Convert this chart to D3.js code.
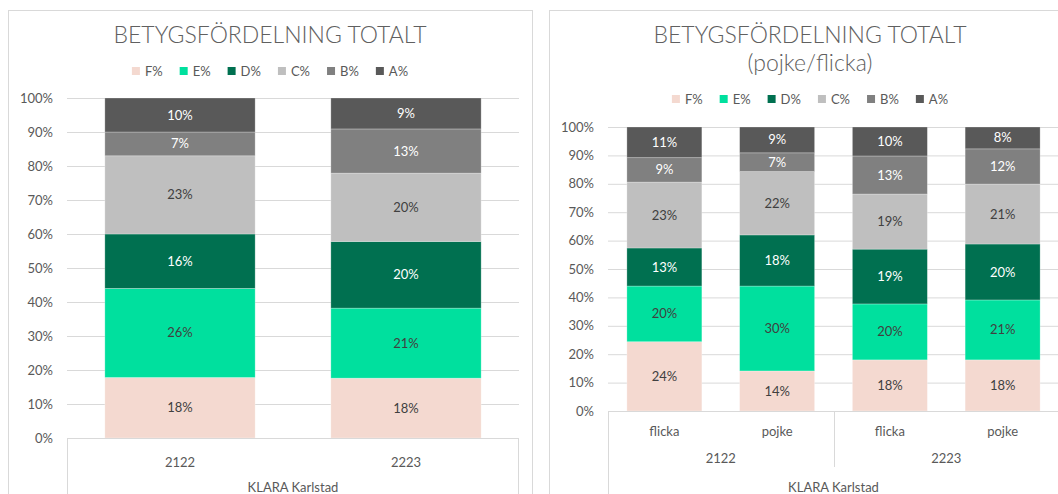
<!DOCTYPE html>
<html>
<head>
<meta charset="utf-8">
<script src="https://cdn.jsdelivr.net/npm/d3@7"></script>
<style>
  body { margin: 0; background: #fff; }
  svg { display: block; font-family: Lato, 'Open Sans', sans-serif; }
</style>
</head>
<body>
<script>
// Grades (stack order bottom -> top) and their colours.
const grades = ['F%', 'E%', 'D%', 'C%', 'B%', 'A%'];
const gradeColors = ['#f4d9d0', '#00e09e', '#007050', '#bfbfbf', '#808080', '#595959'];
const labelColors = ['#404040', '#404040', '#ffffff', '#404040', '#ffffff', '#ffffff'];

// Left chart: total per school year.
const years = ['2122', '2223'];
const total2122 = [17.8, 26.2, 16.0, 23.0, 7.0, 10.0];
const total2223 = [17.6, 20.6, 19.6, 20.1, 13.0, 9.1];

// Right chart: per gender and school year.
const genders = ['flicka', 'pojke'];
const flicka2122 = [24.4, 19.6, 13.4, 23.2, 8.6, 10.8];
const pojke2122 = [14.1, 29.9, 18.0, 22.3, 6.6, 9.1];
const flicka2223 = [18.0, 19.7, 19.3, 19.4, 13.4, 10.2];
const pojke2223 = [18.0, 21.1, 19.7, 21.1, 12.4, 7.7];

const yTicks = [0, 10, 20, 30, 40, 50, 60, 70, 80, 90, 100];
const school = 'KLARA Karlstad';

const svg = d3.select('body').append('svg')
    .attr('width', 1058)
    .attr('height', 494);

// Build a table of rows {key, F%:.., E%:..} for d3.stack.
function toRows(keys, series) {
    return keys.map((k, i) => {
        const row = { key: k };
        grades.forEach((g, j) => row[g] = series[i][j]);
        return row;
    });
}

function drawChart(cfg) {
    const g = svg.append('g');

    // Chart frame.
    g.append('rect')
        .attr('x', cfg.frame[0] + 0.5).attr('y', cfg.frame[1] + 0.5)
        .attr('width', cfg.frame[2]).attr('height', cfg.frame[3])
        .attr('fill', '#fff').attr('stroke', '#d9d9d9');

    // Title lines.
    cfg.title.forEach((t, i) => {
        g.append('text')
            .attr('x', cfg.cx).attr('y', 43 + i * 28)
            .attr('text-anchor', 'middle')
            .attr('font-size', '23px')
            .attr('font-weight', 300)
            .attr('fill', '#606060')
            .text(t);
    });

    // Legend, centred on the chart.
    const legend = g.append('g');
    let lx = 0;
    grades.forEach((gr, i) => {
        const item = legend.append('g').attr('transform', `translate(${lx},0)`);
        item.append('rect')
            .attr('x', 0).attr('y', -4)
            .attr('width', 8).attr('height', 8)
            .attr('fill', gradeColors[i]);
        const t = item.append('text')
            .attr('x', 13).attr('dy', '0.35em')
            .attr('font-size', '13px')
            .attr('fill', '#595959')
            .text(gr);
        lx += 13 + t.node().getComputedTextLength() + 17;
    });
    lx -= 17;
    legend.attr('transform', `translate(${cfg.cx - lx / 2},${cfg.legendY})`);

    // Scales.
    const x = d3.scaleBand()
        .domain(cfg.rows.map(d => d.key))
        .range([cfg.left, cfg.right])
        .paddingInner(0.335)
        .paddingOuter(0.1675);
    const y = d3.scaleLinear()
        .domain([0, 100])
        .range([cfg.bottom, cfg.top]);

    // Gridlines + y axis labels.
    const yAxis = g.append('g')
        .attr('transform', `translate(${cfg.left},0)`)
        .call(d3.axisLeft(y).tickValues(yTicks)
            .tickSize(-(cfg.right - cfg.left))
            .tickPadding(14)
            .tickFormat(d => d + '%'));
    yAxis.select('.domain').remove();
    yAxis.selectAll('line').attr('stroke', '#d9d9d9');
    yAxis.selectAll('text')
        .attr('fill', '#595959')
        .attr('font-size', '13px')
        .attr('font-family', 'Lato, sans-serif');

    // Stacked bars.
    const stacked = d3.stack().keys(grades)(cfg.rows);
    stacked.forEach((layer, i) => {
        const lg = g.append('g');
        lg.selectAll('rect')
            .data(layer)
            .join('rect')
            .attr('x', d => x(d.data.key))
            .attr('y', d => y(d[1]))
            .attr('width', x.bandwidth())
            .attr('height', d => y(d[0]) - y(d[1]))
            .attr('fill', gradeColors[i])
            .attr('stroke', '#ffffff')
            .attr('stroke-opacity', 0.35)
            .attr('stroke-width', 0.75);
        lg.selectAll('text')
            .data(layer)
            .join('text')
            .attr('x', d => x(d.data.key) + x.bandwidth() / 2)
            .attr('y', d => y((d[0] + d[1]) / 2))
            .attr('dy', '0.35em')
            .attr('text-anchor', 'middle')
            .attr('font-size', '13px')
            .attr('fill', labelColors[i])
            .text(d => Math.round(d[1] - d[0]) + '%');
    });

    // Category axis box.
    const ax = g.append('g')
        .attr('stroke', '#d9d9d9')
        .attr('fill', 'none');
    ax.append('line')
        .attr('x1', cfg.left).attr('x2', cfg.right)
        .attr('y1', cfg.bottom + 0.5).attr('y2', cfg.bottom + 0.5);
    ax.append('line')
        .attr('x1', cfg.left + 0.5).attr('x2', cfg.left + 0.5)
        .attr('y1', cfg.bottom).attr('y2', 494);
    ax.append('line')
        .attr('x1', cfg.right - 0.5).attr('x2', cfg.right - 0.5)
        .attr('y1', cfg.bottom).attr('y2', 494);

    const labelStyle = sel => sel
        .attr('text-anchor', 'middle')
        .attr('dy', '0.35em')
        .attr('font-size', '13px')
        .attr('fill', '#595959');

    if (cfg.groups) {
        // Two-level axis: gender row then year row.
        g.selectAll('.cat')
            .data(cfg.rows)
            .join('text')
            .attr('class', 'cat')
            .attr('x', d => x(d.key) + x.bandwidth() / 2)
            .attr('y', cfg.bottom + 20)
            .call(labelStyle)
            .text(d => d.sub);
        const step = x.step();
        cfg.groups.forEach((yr, i) => {
            const gx = cfg.left + (i + 0.5) * step * 2;
            g.append('text')
                .attr('x', gx).attr('y', cfg.bottom + 47)
                .call(labelStyle)
                .text(yr);
            if (i > 0) {
                ax.append('line')
                    .attr('x1', Math.round(cfg.left + i * step * 2) + 0.5)
                    .attr('x2', Math.round(cfg.left + i * step * 2) + 0.5)
                    .attr('y1', cfg.bottom).attr('y2', cfg.bottom + 56);
            }
        });
    } else {
        g.selectAll('.cat')
            .data(cfg.rows)
            .join('text')
            .attr('class', 'cat')
            .attr('x', d => x(d.key) + x.bandwidth() / 2)
            .attr('y', cfg.bottom + 24)
            .call(labelStyle)
            .text(d => d.key);
    }

    g.append('text')
        .attr('x', (cfg.left + cfg.right) / 2)
        .attr('y', 487)
        .call(labelStyle)
        .text(school);
}

// Left chart.
drawChart({
    frame: [8, 10, 524, 500],
    cx: 270,
    title: ['BETYGSFÖRDELNING TOTALT'],
    legendY: 71,
    left: 67, right: 519, top: 98, bottom: 438,
    rows: toRows(years, [total2122, total2223])
});

// Right chart.
const genderRows = toRows(
    ['2122 flicka', '2122 pojke', '2223 flicka', '2223 pojke'],
    [flicka2122, pojke2122, flicka2223, pojke2223]);
genderRows.forEach((r, i) => r.sub = genders[i % 2]);

drawChart({
    frame: [549, 10, 522, 500],
    cx: 810,
    title: ['BETYGSFÖRDELNING TOTALT', '(pojke/flicka)'],
    legendY: 99,
    left: 608, right: 1059, top: 127, bottom: 411,
    rows: genderRows,
    groups: years
});
</script>
</body>
</html>
